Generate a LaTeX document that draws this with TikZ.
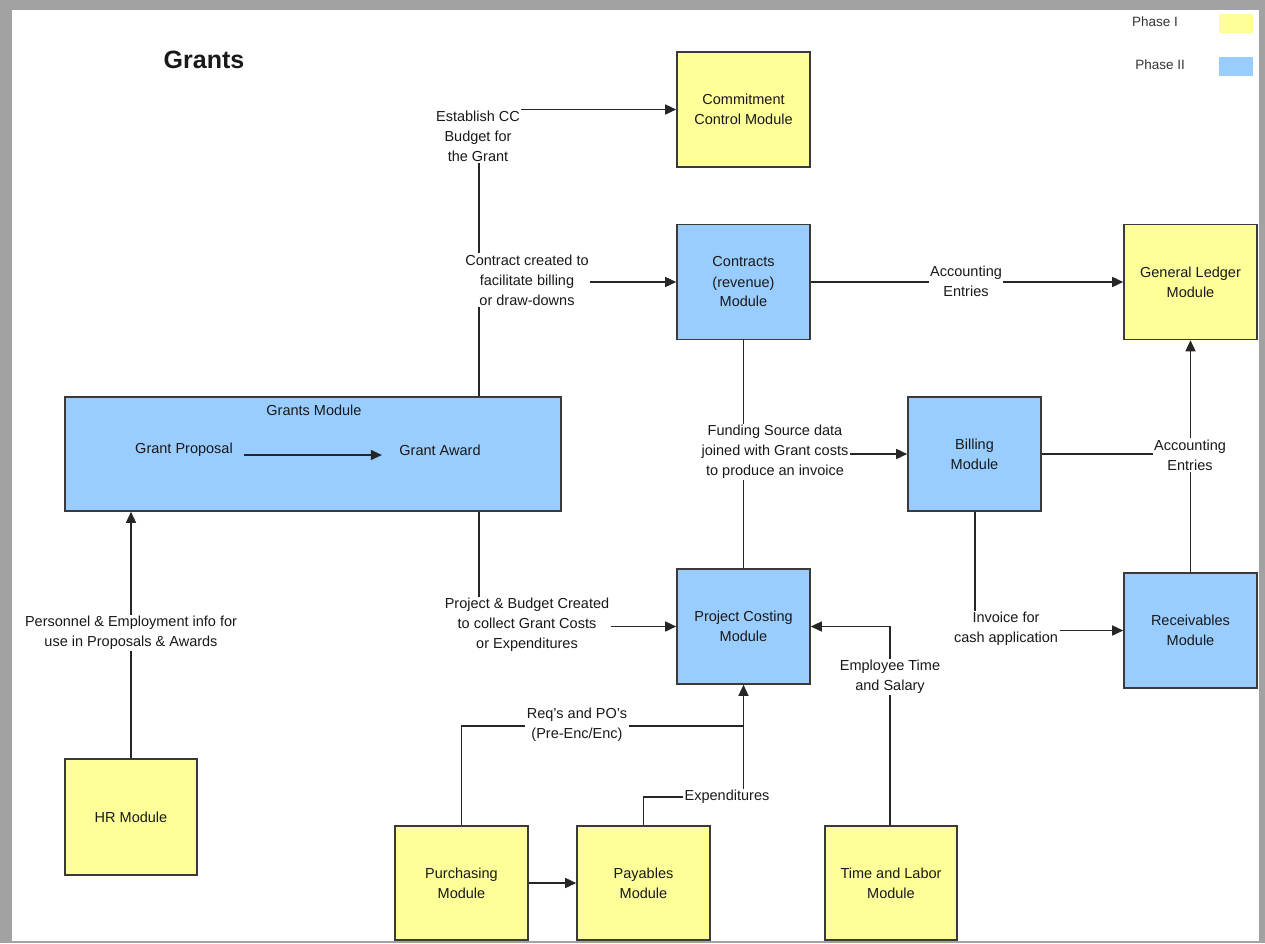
\documentclass[tikz,border=0pt]{standalone}
\usepackage{fontspec}
\setmainfont{Liberation Sans}
\usetikzlibrary{arrows.meta}
\definecolor{yfill}{HTML}{FFFF99}
\definecolor{bfill}{HTML}{99CCFF}
\definecolor{framegray}{HTML}{A2A2A2}
\definecolor{edge}{HTML}{3A3A3A}
\begin{document}
\begin{tikzpicture}[x=1pt,y=-1pt,
  every node/.style={font=\fontsize{14.5}{20}\selectfont, text=black!90},
  mod/.style={draw=edge, line width=1.6pt, minimum width=133pt, minimum height=115pt, align=center, inner sep=0pt},
  yel/.style={mod, fill=yfill},
  blu/.style={mod, fill=bfill},
  lbl/.style={fill=white, align=center, inner sep=1.5pt},
  conn/.style={line width=1.5pt, draw=black!85},
  arr/.style={conn, -{Triangle[length=11pt,width=10pt]}}]
\useasboundingbox (0,0) rectangle (1265,943);
\fill[framegray] (0,0) rectangle (1265,943);
\fill[white] (12,10) rectangle (1259,941);

% title and legend
\node[font=\bfseries\fontsize{25}{30}\selectfont] (title) at (204,60) {Grants};
\node[font=\fontsize{13.5}{16}\selectfont, text=black!80] (ph1) at (1155,22) {Phase I};
\node[font=\fontsize{13.5}{16}\selectfont, text=black!80] (ph2) at (1160,65) {Phase II};
\node[fill=yfill, minimum width=34pt, minimum height=19pt, inner sep=0pt] (sw1) at (1236,23.5) {};
\node[fill=bfill, minimum width=34pt, minimum height=19pt, inner sep=0pt] (sw2) at (1236,66.5) {};

% modules
\node[yel] (cc) at (743.5,109.5) {Commitment\\Control Module};
\node[blu] (contracts) at (743.5,282) {Contracts\\(revenue)\\Module};
\node[yel] (gl) at (1190.5,282) {General Ledger\\Module};
\node[blu, minimum width=496pt, minimum height=114pt] (gm) at (313,454) {};
\node (gmt) at (314,410) {Grants Module};
\node (gp) at (184,450) {Grant Proposal};
\node (ga) at (440,450) {Grant Award};
\node[blu, minimum height=114pt] (billing) at (974.5,454) {Billing\\Module};
\node[blu] (pc) at (743.5,626.5) {Project Costing\\Module};
\node[blu] (recv) at (1190.5,630.5) {Receivables\\Module};
\node[yel, minimum width=132pt, minimum height=116pt] (hr) at (131,817) {HR Module};
\node[yel, minimum height=114pt] (purch) at (461.5,883) {Purchasing\\Module};
\node[yel, minimum height=114pt] (pay) at (643.5,883) {Payables\\Module};
\node[yel, minimum width=132pt, minimum height=114pt] (tl) at (891,883) {Time and Labor\\Module};

% junction coordinates
\coordinate (jx) at (479,0);
\coordinate (jreq) at (0,726);
\coordinate (jexp) at (0,797);

% connectors
\draw[arr, shorten <=8pt, shorten >=14pt] ([yshift=-5pt]gp.east) -- ([yshift=-5pt]ga.west);
\draw[arr] (gm.north -| jx) |- (cc.west);
\draw[arr] (jx |- contracts.west) -- (contracts.west);
\draw[arr] (gm.south -| jx) |- (pc.west);
\draw[conn] (contracts.south) -- (pc.north);
\draw[arr] (contracts.south |- billing.west) -- (billing.west);
\draw[arr] (contracts.east) -- (gl.west);
\draw[conn] (billing.east) -- (billing.east -| gl.south);
\draw[arr] (recv.north) -- (gl.south);
\draw[arr] ([xshift=0.5pt]billing.south) |- (recv.west);
\draw[arr] ([xshift=-1pt]tl.north) |- (pc.east);
\draw[conn] (purch.north) |- (pc.south |- jreq);
\draw[arr] (pay.north) |- (pc.south |- jexp) -- (pc.south);
\draw[arr] (purch.east) -- (pay.west);
\draw[arr] (hr.north) -- (gm.south -| hr.north);

% labels
\node[lbl] (l1) at (478,136) {Establish CC\\Budget for\\the Grant};
\node[lbl] (l2) at (527,280) {Contract created to\\facilitate billing\\or draw-downs};
\node[lbl] (l3) at (527,625) {Project \& Budget Created\\to collect Grant Costs\\or Expenditures};
\node[lbl] (l4) at (775,452) {Funding Source data\\joined with Grant costs\\to produce an invoice};
\node[lbl] (l5) at (966,281) {Accounting\\Entries};
\node[lbl] (l6) at (1190,455) {Accounting\\Entries};
\node[lbl] (l7) at (1006,629) {Invoice for\\cash application};
\node[lbl] (l8) at (890,677) {Employee Time\\and Salary};
\node[lbl] (l9) at (577,725) {Req's and PO's\\(Pre-Enc/Enc)};
\node[lbl] (l10) at (727,797) {Expenditures};
\node[lbl] (l11) at (131,633) {Personnel \& Employment info for\\use in Proposals \& Awards};
\end{tikzpicture}
\end{document}
